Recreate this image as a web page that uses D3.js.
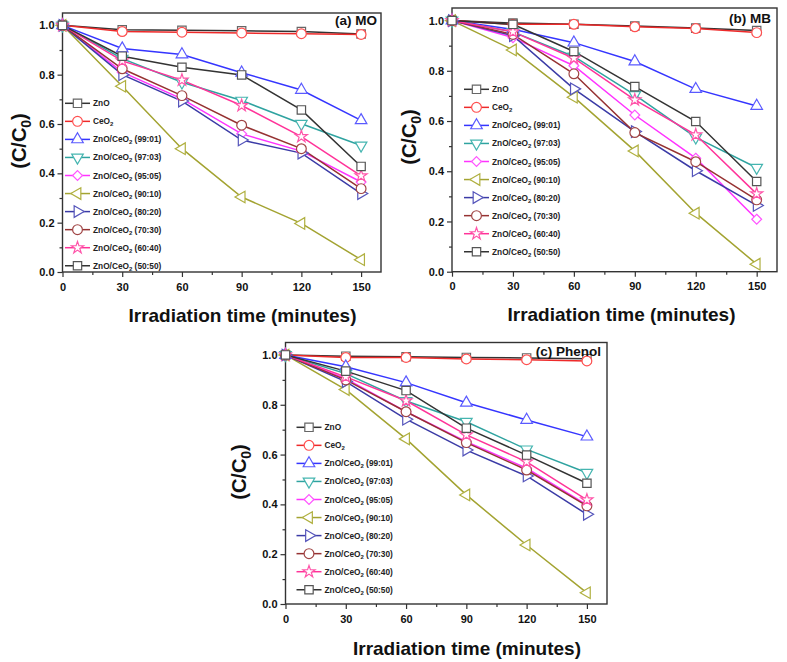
<!DOCTYPE html>
<html>
<head>
<meta charset="utf-8">
<script src="https://cdnjs.cloudflare.com/ajax/libs/d3/7.8.5/d3.min.js"></script>
<style>
  body { margin: 0; background: #fff; }
  svg { display: block; font-family: Arial, "Liberation Sans", sans-serif; }
</style>
</head>
<body>
<svg id="chart" width="787" height="662"></svg>
<script>
// data
const times = [0, 30, 60, 90, 120, 150];
const xTicks = [0, 30, 60, 90, 120, 150];
const xMinor = [15, 45, 75, 105, 135];
const yTicks = [0, 0.2, 0.4, 0.6, 0.8, 1.0];
const yMinor = [0.1, 0.3, 0.5, 0.7, 0.9];
const seriesNames = ['ZnO', 'CeO2', 'ZnO/CeO2 (99:01)', 'ZnO/CeO2 (97:03)', 'ZnO/CeO2 (95:05)',
  'ZnO/CeO2 (90:10)', 'ZnO/CeO2 (80:20)', 'ZnO/CeO2 (70:30)', 'ZnO/CeO2 (60:40)', 'ZnO/CeO2 (50:50)'];

const moValues = [
  [1, 0.982, 0.98, 0.978, 0.975, 0.965],
  [1, 0.975, 0.972, 0.969, 0.966, 0.963],
  [1, 0.906, 0.882, 0.808, 0.738, 0.615],
  [1, 0.865, 0.769, 0.695, 0.601, 0.513],
  [1, 0.81, 0.702, 0.56, 0.49, 0.365],
  [1, 0.753, 0.5, 0.304, 0.197, 0.05],
  [1, 0.8, 0.693, 0.535, 0.482, 0.318],
  [1, 0.824, 0.715, 0.595, 0.5, 0.338],
  [1, 0.856, 0.778, 0.675, 0.549, 0.39],
  [1, 0.875, 0.83, 0.799, 0.657, 0.428]
];
const mbValues = [
  [1, 0.99, 0.985, 0.978, 0.97, 0.96],
  [1, 0.985, 0.985, 0.975, 0.968, 0.952],
  [1, 0.965, 0.912, 0.837, 0.727, 0.66],
  [1, 0.955, 0.857, 0.704, 0.535, 0.414],
  [1, 0.932, 0.82, 0.624, 0.452, 0.209],
  [1, 0.883, 0.695, 0.481, 0.233, 0.03],
  [1, 0.94, 0.728, 0.558, 0.402, 0.264],
  [1, 0.945, 0.788, 0.554, 0.438, 0.286],
  [1, 0.955, 0.85, 0.684, 0.545, 0.31],
  [1, 0.985, 0.877, 0.737, 0.598, 0.359]
];
const phenolValues = [
  [1, 0.995, 0.993, 0.99, 0.988, 0.985],
  [1, 0.99, 0.99, 0.984, 0.981, 0.976],
  [1, 0.953, 0.889, 0.808, 0.739, 0.672],
  [1, 0.925, 0.815, 0.732, 0.621, 0.527],
  [1, 0.905, 0.772, 0.652, 0.545, 0.398],
  [1, 0.861, 0.663, 0.438, 0.237, 0.045],
  [1, 0.893, 0.742, 0.618, 0.514, 0.36],
  [1, 0.9, 0.772, 0.648, 0.538, 0.394],
  [1, 0.912, 0.816, 0.679, 0.571, 0.418],
  [1, 0.935, 0.857, 0.706, 0.598, 0.485]
];

// styles
const lineColors = ['#333333', '#ee2a2a', '#3535ff', '#2fa3a0', '#ff33ff', '#a3a331', '#3b3ba6', '#963232', '#ff3399', '#333333'];
const markColors = ['#666666', '#ff5050', '#5a5aff', '#45b5b0', '#ff55ff', '#b0b040', '#5555bb', '#a04545', '#ff55aa', '#555555'];
const diamond = d3.symbolDiamond2 || d3.symbolSquare;
const shapes = [
  { t: d3.symbolSquare, r: 0, s: 70 },
  { t: d3.symbolCircle, r: 0, s: 75 },
  { t: d3.symbolTriangle, r: 0, s: 58 },
  { t: d3.symbolTriangle, r: 180, s: 58 },
  { t: diamond, r: d3.symbolDiamond2 ? 0 : 45, s: 62 },
  { t: d3.symbolTriangle, r: -90, s: 58 },
  { t: d3.symbolTriangle, r: 90, s: 58 },
  { t: d3.symbolCircle, r: 0, s: 75 },
  { t: d3.symbolStar, r: 0, s: 45 },
  { t: d3.symbolSquare, r: 0, s: 70 }
];

const panels = [
  { values: moValues, title: '(a) MO', left: 62.5, right: 381, top: 13, bottom: 272,
    titleX: 377, titleY: 25, legX: 2.5, legY: 103.3, xt: [242.5, 322], yt: [19, 141] },
  { values: mbValues, title: '(b) MB', left: 452, right: 777, top: 8, bottom: 271.7,
    titleX: 771, titleY: 23, legX: 12, legY: 89.3, xt: [621.5, 321], yt: [409, 137] },
  { values: phenolValues, title: '(c) Phenol', left: 285.5, right: 607, top: 342.5, bottom: 604,
    titleX: 601, titleY: 355.5, legX: 11, legY: 427.3, xt: [467, 655], yt: [239, 472] }
];

const svg = d3.select('#chart');
svg.append('rect').attr('width', 787).attr('height', 662).attr('fill', '#fff');

function subLabel (sel, name) {
  // CeO2 -> CeO with subscript 2
  const parts = name.split('CeO2');
  parts.forEach(function (p, i) {
    if (i > 0) {
      sel.append('tspan').text('CeO');
      sel.append('tspan').attr('font-size', '6px').attr('dy', '2').text('2');
      sel.append('tspan').attr('dy', '-2').text(p);
    } else {
      sel.append('tspan').text(p);
    }
  });
}

panels.forEach(function (p) {
  const x = d3.scaleLinear().domain([0, 160]).range([p.left, p.right]);
  const y = d3.scaleLinear().domain([0, 1.05]).range([p.bottom, p.top]);
  const g = svg.append('g');

  // axes
  const xa = g.append('g').attr('transform', 'translate(0,' + p.bottom + ')')
    .call(d3.axisBottom(x).tickValues(xTicks).tickSize(5).tickPadding(6).tickFormat(d3.format('d')));
  const ya = g.append('g').attr('transform', 'translate(' + p.left + ',0)')
    .call(d3.axisLeft(y).tickValues(yTicks).tickSize(5).tickPadding(3).tickFormat(d3.format('.1f')));
  g.append('g').attr('transform', 'translate(0,' + p.bottom + ')')
    .call(d3.axisBottom(x).tickValues(xMinor).tickSize(3).tickFormat(''));
  g.append('g').attr('transform', 'translate(' + p.left + ',0)')
    .call(d3.axisLeft(y).tickValues(yMinor).tickSize(3).tickFormat(''));
  g.selectAll('.domain').remove();
  g.selectAll('.tick line').attr('stroke', '#333').attr('stroke-width', 1.2);
  [xa, ya].forEach(function (a) {
    a.selectAll('text').attr('font-size', '11px').attr('font-weight', 'bold')
      .attr('fill', '#111').attr('font-family', 'Arial, "Liberation Sans", sans-serif');
  });

  // frame
  g.append('rect').attr('x', p.left).attr('y', p.top)
    .attr('width', p.right - p.left).attr('height', p.bottom - p.top)
    .attr('fill', 'none').attr('stroke', '#333').attr('stroke-width', 1.4);

  // lines
  const line = d3.line().x(function (d, i) { return x(times[i]); }).y(function (d) { return y(d); });
  p.values.forEach(function (vals, k) {
    g.append('path').datum(vals).attr('d', line)
      .attr('fill', 'none').attr('stroke', lineColors[k]).attr('stroke-width', 1.5);
  });
  // markers on top
  p.values.forEach(function (vals, k) {
    const sh = shapes[k];
    g.selectAll(null).data(vals).enter().append('path')
      .attr('d', d3.symbol().type(sh.t).size(sh.s))
      .attr('transform', function (d, i) { return 'translate(' + x(times[i]) + ',' + y(d) + ') rotate(' + sh.r + ')'; })
      .attr('fill', '#fff').attr('stroke', markColors[k]).attr('stroke-width', 1.2);
  });

  // legend
  const lg = g.append('g').attr('transform', 'translate(' + (p.left + p.legX) + ',' + p.legY + ')');
  seriesNames.forEach(function (name, k) {
    const row = lg.append('g').attr('transform', 'translate(0,' + (k * 18.05) + ')');
    row.append('line').attr('x1', 0).attr('x2', 25).attr('y1', 0).attr('y2', 0)
      .attr('stroke', lineColors[k]).attr('stroke-width', 1.5);
    row.append('path').attr('d', d3.symbol().type(shapes[k].t).size(shapes[k].s))
      .attr('transform', 'translate(12.5,0) rotate(' + shapes[k].r + ')')
      .attr('fill', '#fff').attr('stroke', markColors[k]).attr('stroke-width', 1.2);
    const t = row.append('text').attr('x', 28).attr('y', 3)
      .attr('font-size', '8.3px').attr('font-weight', 'bold').attr('fill', '#222');
    subLabel(t, name);
  });

  // panel title
  g.append('text').attr('x', p.titleX).attr('y', p.titleY).attr('text-anchor', 'end')
    .attr('font-size', '13.5px').attr('font-weight', 'bold').attr('fill', '#111').text(p.title);

  // axis titles
  g.append('text').attr('x', p.xt[0]).attr('y', p.xt[1]).attr('text-anchor', 'middle')
    .attr('font-size', '19px').attr('font-weight', 'bold').attr('fill', '#111')
    .text('Irradiation time (minutes)');
  const yt = g.append('text').attr('transform', 'translate(' + p.yt[0] + ',' + p.yt[1] + ') rotate(-90)')
    .attr('text-anchor', 'middle').attr('dy', '0.35em')
    .attr('font-size', '20px').attr('font-weight', 'bold').attr('fill', '#111');
  yt.append('tspan').text('(C/C');
  yt.append('tspan').attr('font-size', '14px').attr('dy', '5').text('0');
  yt.append('tspan').attr('dy', '-5').text(')');
});
</script>
</body>
</html>
